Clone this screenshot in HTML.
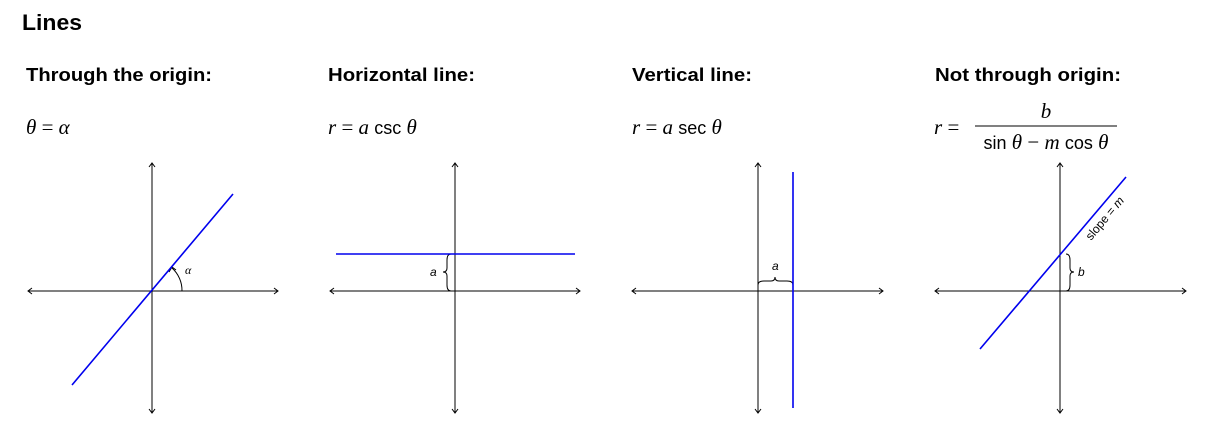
<!DOCTYPE html>
<html><head><meta charset="utf-8"><style>
body{margin:0;width:1206px;height:428px;background:#fff;overflow:hidden}
svg{display:block}
.h{font-family:"Liberation Sans",sans-serif;font-weight:bold;font-size:18px}
.f{font-family:"Liberation Serif",serif;font-size:21px}
.s{font-family:"Liberation Sans",sans-serif;font-size:19px}
</style></head><body>
<svg width="1206" height="428" viewBox="0 0 1206 428">
<text x="22" y="30" class="h" style="font-size:22px" textLength="60" lengthAdjust="spacingAndGlyphs">Lines</text>
<text x="26" y="81" class="h" textLength="186" lengthAdjust="spacingAndGlyphs">Through the origin:</text>
<text x="328" y="81" class="h" textLength="147" lengthAdjust="spacingAndGlyphs">Horizontal line:</text>
<text x="632" y="81" class="h" textLength="120" lengthAdjust="spacingAndGlyphs">Vertical line:</text>
<text x="935" y="81" class="h" textLength="186" lengthAdjust="spacingAndGlyphs">Not through origin:</text>
<text x="26" y="134" class="f" font-style="italic">θ <tspan font-style="normal">=</tspan> α</text>
<text x="328" y="134" class="f"><tspan font-style="italic">r</tspan> = <tspan font-style="italic">a</tspan> <tspan class="s" style="font-size:18px">csc</tspan> <tspan font-style="italic">θ</tspan></text>
<text x="632" y="134" class="f"><tspan font-style="italic">r</tspan> = <tspan font-style="italic">a</tspan> <tspan class="s" style="font-size:18px">sec</tspan> <tspan font-style="italic">θ</tspan></text>
<text x="934" y="134" class="f"><tspan font-style="italic">r</tspan> =</text>
<text x="1046" y="118" class="f" font-style="italic" text-anchor="middle">b</text>
<line x1="975" y1="126" x2="1117" y2="126" stroke="#000" stroke-width="1"/>
<text x="1046" y="149" class="f" text-anchor="middle"><tspan class="s" style="font-size:18px">sin</tspan> <tspan font-style="italic">θ</tspan> − <tspan font-style="italic">m</tspan> <tspan class="s" style="font-size:18px">cos</tspan> <tspan font-style="italic">θ</tspan></text>
<g stroke="#000" stroke-width="1" fill="none">
<path d="M28,291 H278 M152,163 V413 M330,291 H580 M455,163 V413 M632,291 H883 M758,163 V413 M935,291 H1186 M1060,163 V413"/>
<path d="M32,288 L28,291 L32,294 M274,288 L278,291 L274,294 M149,167 L152,163 L155,167 M149,409 L152,413 L155,409
M334,288 L330,291 L334,294 M576,288 L580,291 L576,294 M452,167 L455,163 L458,167 M452,409 L455,413 L458,409
M636,288 L632,291 L636,294 M879,288 L883,291 L879,294 M755,167 L758,163 L761,167 M755,409 L758,413 L761,409
M939,288 L935,291 L939,294 M1182,288 L1186,291 L1182,294 M1057,167 L1060,163 L1063,167 M1057,409 L1060,413 L1063,409"/>
<path d="M182,291 A30,30 0 0 0 172,268"/><path d="M169,272 L172,267 L176,270"/>
<path d="M451,254 Q447,254 447,260 V268 Q447,272 443,272 Q447,272 447,276 V285 Q447,291 451,291"/>
<path d="M758,285 Q758,281 764,281 H771 Q775,281 775,277 Q775,281 779,281 H787 Q793,281 793,285"/>
<path d="M1066,254 Q1070,254 1070,260 V268 Q1070,272 1074,272 Q1070,272 1070,276 V285 Q1070,291 1066,291"/>
</g>
<g stroke="#0000ee" stroke-width="1.6">
<line x1="72" y1="385" x2="233" y2="194"/>
<line x1="336" y1="254" x2="575" y2="254"/>
<line x1="793" y1="172" x2="793" y2="408"/>
<line x1="980" y1="349" x2="1126" y2="177"/>
</g>
<g font-family="Liberation Serif,serif" font-style="italic" font-size="12">
<text x="185" y="274">α</text>
<text x="430" y="276" font-family="Liberation Sans,sans-serif">a</text>
<text x="772" y="270" font-family="Liberation Sans,sans-serif">a</text>
<text x="1078" y="276" font-family="Liberation Sans,sans-serif">b</text>
<text font-family="Liberation Sans,sans-serif" font-style="normal" transform="translate(1091,241) rotate(-50)">slope = <tspan font-style="italic">m</tspan></text>
</g>
</svg>
</body></html>
